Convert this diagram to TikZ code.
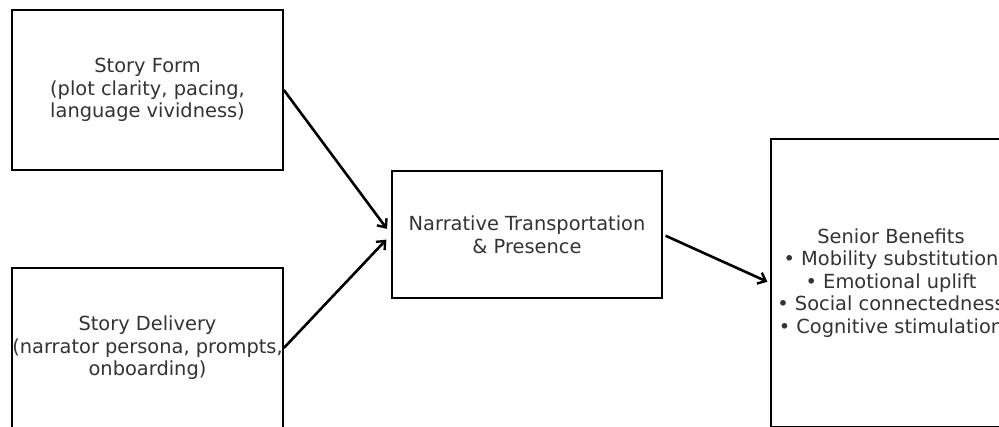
\documentclass[tikz,border=0pt]{standalone}
\usepackage{fontspec}
\setmainfont{DejaVu Sans}
\usetikzlibrary{arrows.meta}
\definecolor{txt}{HTML}{333333}
\tikzset{
  boxnode/.style={draw=black, line width=1.7pt, text=txt, align=center, inner sep=0pt,
    font=\fontsize{19.4}{22.6}\selectfont},
  conn/.style={line width=2.6pt, -{Straight Barb[length=7pt,width=12pt,line width=2.4pt]}}
}
\begin{document}
\begin{tikzpicture}[x=1pt,y=-1pt]
\useasboundingbox (0,0) rectangle (999,426);
\begin{scope}
\clip (0,0) rectangle (999,426);
\node[boxnode, minimum width=271pt, minimum height=160pt] (sf) at (147.5,90)
  {Story Form\\(plot clarity, pacing,\\language vividness)};
\node[boxnode, minimum width=271pt, minimum height=160pt] (sd) at (147.5,348)
  {Story Delivery\\(narrator persona, prompts,\\onboarding)};
\node[boxnode, minimum width=270pt, minimum height=127pt] (na) at (527,234.5)
  {Narrative Transportation\\\& Presence};
\node[boxnode, minimum width=240pt, minimum height=288pt] (sb) at (891,283)
  {Senior Benefits\\• Mobility substitution\\• Emotional uplift\\• Social connectedness\\• Cognitive stimulation};
\draw[conn, shorten >=7pt] (sf.east) -- (na.west);
\draw[conn, shorten >=7pt] (sd.east) -- (na.west);
\draw[conn, shorten <=3pt, shorten >=3pt] (na.east) -- (sb.west);
\end{scope}
\end{tikzpicture}
\end{document}
